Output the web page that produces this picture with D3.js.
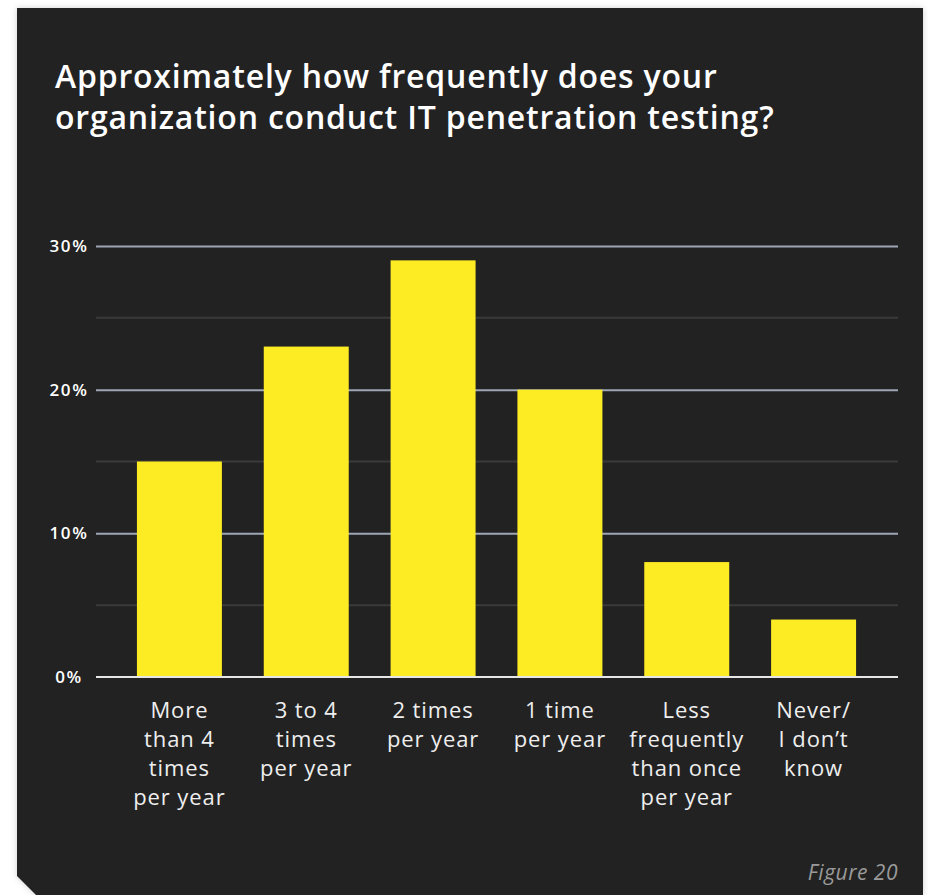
<!DOCTYPE html>
<html>
<head>
<meta charset="utf-8">
<script src="https://cdn.jsdelivr.net/npm/d3@7"></script>
<style>
  html, body { margin: 0; padding: 0; background: #ffffff; }
  svg { display: block; }
</style>
</head>
<body>
<svg id="chart" width="928" height="895"></svg>
<script>
// Survey answers: how often IT penetration testing is run
const categories = [
  ["More", "than 4", "times", "per year"],
  ["3 to 4", "times", "per year"],
  ["2 times", "per year"],
  ["1 time", "per year"],
  ["Less", "frequently", "than once", "per year"],
  ["Never/", "I don\u2019t", "know"]
];
const shares = [15, 23, 29, 20, 8, 4];
const majorTicks = [0, 10, 20, 30];
const minorTicks = [5, 15, 25];
const titleLines = [
  "Approximately how frequently does your",
  "organization conduct IT penetration testing?"
];
const figureLabel = "Figure 20";

const svg = d3.select("#chart");
const font = "'Open Sans', 'Noto Sans', sans-serif";

// dark card with clipped bottom-left corner
const panel = { x0: 17, y0: 8, x1: 923, y1: 895, cut: 19 };
svg.append("defs").append("filter").attr("id", "shadow")
  .attr("x", "-5%").attr("y", "-5%").attr("width", "110%").attr("height", "110%")
  .append("feDropShadow").attr("dx", 0).attr("dy", 0).attr("stdDeviation", 3)
  .attr("flood-color", "#000").attr("flood-opacity", 0.18);
svg.append("path")
  .attr("d", `M${panel.x0},${panel.y0}H${panel.x1}V${panel.y1}H${panel.x0 + panel.cut}L${panel.x0},${panel.y1 - panel.cut}Z`)
  .attr("fill", "#222222")
  .attr("filter", "url(#shadow)");

// title
svg.append("text")
  .attr("x", 55).attr("y", 88)
  .attr("fill", "#ffffff")
  .attr("font-family", font).attr("font-weight", 600).attr("font-size", 32)
  .attr("letter-spacing", 0.8)
  .selectAll("tspan").data(titleLines).join("tspan")
  .attr("x", 55).attr("dy", (d, i) => i === 0 ? 0 : 41)
  .text(d => d);

// scales
const y = d3.scaleLinear().domain([0, 30]).range([677, 246]);
const x = d3.scaleBand().domain(d3.range(categories.length))
  .range([116, 877]).paddingInner(0.33).paddingOuter(0.165);
const gridX0 = 96, gridX1 = 898;

// minor gridlines
svg.append("g").selectAll("line").data(minorTicks).join("line")
  .attr("x1", gridX0).attr("x2", gridX1)
  .attr("y1", d => y(d)).attr("y2", d => y(d))
  .attr("stroke", "#3a3a3a").attr("stroke-width", 2);

// major gridlines via a left axis with full-width ticks
const axis = svg.append("g")
  .attr("transform", `translate(${gridX0},0)`)
  .call(d3.axisLeft(y).tickValues(majorTicks.filter(d => d !== 0))
    .tickSize(-(gridX1 - gridX0)).tickFormat(""));
axis.select(".domain").remove();
axis.selectAll(".tick line").attr("stroke", "#9ea6b5").attr("stroke-width", 2);

// tick labels
svg.append("g").selectAll("text").data(majorTicks).join("text")
  .attr("x", 69).attr("y", d => y(d))
  .attr("dy", "0.35em")
  .attr("text-anchor", "middle")
  .attr("fill", "#ffffff")
  .attr("font-family", font).attr("font-weight", 600).attr("font-size", 17)
  .attr("letter-spacing", 1.6)
  .text(d => d + "%");

// bars
svg.append("g").selectAll("rect").data(shares).join("rect")
  .attr("x", (d, i) => x(i))
  .attr("width", x.bandwidth())
  .attr("y", d => y(d))
  .attr("height", d => y(0) - y(d))
  .attr("fill", "#fdeb24");

// baseline drawn over the bars
svg.append("line")
  .attr("x1", gridX0).attr("x2", gridX1)
  .attr("y1", y(0)).attr("y2", y(0))
  .attr("stroke", "#e6e6e6").attr("stroke-width", 2);

// category labels
svg.append("g").selectAll("text").data(categories).join("text")
  .attr("x", (d, i) => x(i) + x.bandwidth() / 2)
  .attr("y", 718)
  .attr("text-anchor", "middle")
  .attr("fill", "#eeeeee")
  .attr("font-family", font).attr("font-size", 22)
  .attr("letter-spacing", 0.9)
  .selectAll("tspan").data((d, i) => d.map(t => ({ t, i }))).join("tspan")
  .attr("x", d => x(d.i) + x.bandwidth() / 2)
  .attr("dy", (d, j) => j === 0 ? 0 : 29)
  .text(d => d.t);

// figure caption
svg.append("text")
  .attr("x", 898).attr("y", 880)
  .attr("text-anchor", "end")
  .attr("fill", "#9a9a9a")
  .attr("font-family", font).attr("font-style", "italic").attr("font-size", 21)
  .attr("letter-spacing", 0.5)
  .text(figureLabel);
</script>
</body>
</html>
